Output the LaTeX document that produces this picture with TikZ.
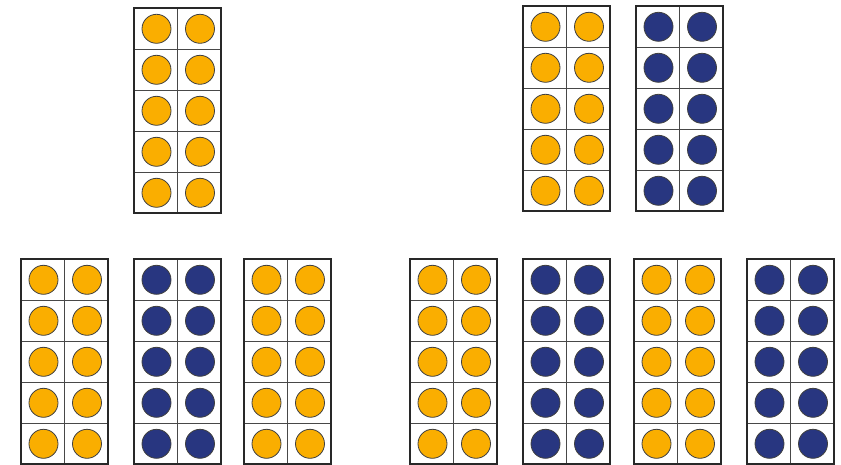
\documentclass[tikz,border=0pt]{standalone}
\usetikzlibrary{positioning}
\definecolor{dotorange}{RGB}{250,174,0}
\definecolor{dotblue}{RGB}{40,54,128}
\definecolor{framegray}{RGB}{40,40,40}

\begin{document}
\begin{tikzpicture}[
    x=1pt, y=-1pt,
    frame/.style={draw=framegray, line width=1.6pt},
    cellline/.style={draw=framegray!85, line width=0.7pt},
    counter/.style={circle, draw=black!75, line width=0.8pt, minimum size=29pt, inner sep=0pt},
]
\useasboundingbox (0,0) rectangle (841,465);

% Ten-frames: left x / top y / counter colour
\foreach \fx/\fy/\fc [count=\i] in {134/8/dotorange, 523/6/dotorange, 636/6/dotblue,
    21/259/dotorange, 134/259/dotblue, 244/259/dotorange,
    410/259/dotorange, 523/259/dotblue, 634/259/dotorange, 747/259/dotblue} {
  \draw[cellline] (\fx+43.5,\fy) -- (\fx+43.5,\fy+205);
  \foreach \r in {1,...,4}
    \draw[cellline] (\fx,\fy+41*\r) -- (\fx+87,\fy+41*\r);
  \draw[frame] (\fx,\fy) rectangle (\fx+87,\fy+205);
  % Counters
  \foreach \r in {0,...,4}
    \foreach \c in {0,1}
      \node[counter, fill=\fc] (dot\i-\r-\c) at (\fx+22.5+43.5*\c, \fy+20.8+41*\r) {};
}

\end{tikzpicture}
\end{document}
